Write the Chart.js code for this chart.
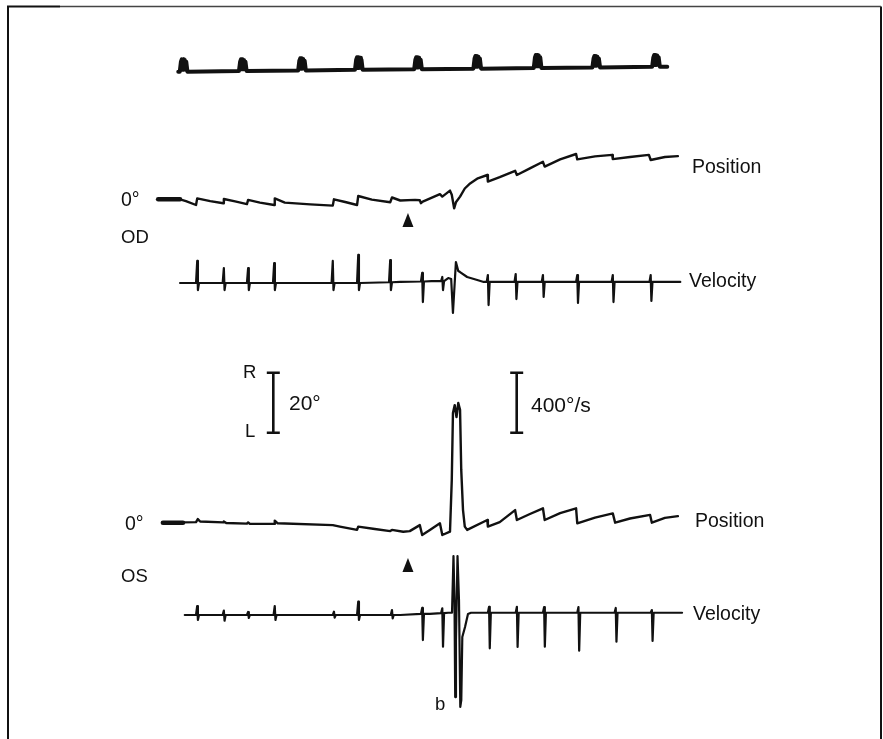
<!DOCTYPE html>
<html>
<head>
<meta charset="utf-8">
<title>OD / OS position and velocity</title>
<script src="https://cdn.jsdelivr.net/npm/chart.js@4.4.1/dist/chart.umd.min.js"></script>
<style>
  html, body { margin: 0; padding: 0; background: #fff; }
  #trace { display: block; }
</style>
</head>
<body>
<canvas id="trace" width="883" height="739"></canvas>
<script>
// time in s from the first timing mark, position in deg (R up), velocity in deg/s

// 1 s timing marks
const markTimes = [0.01, 1.01, 2.01, 2.97, 3.97, 4.97, 5.99, 6.98, 7.99];
const markBase = [0.03, 0.08, 0.13, 0.18, 0.23, 0.28, 0.33, 0.38, 0.43];
const markTop = [1.06, 1.06, 1.14, 1.23, 1.23, 1.33, 1.42, 1.33, 1.42];
const markEnds = [[-0.08, 0.03], [8.18, 0.44]];

const stimulusOnset = 3.80;

// right eye
const odPosition = [
  [-0.05, 0], [0.05, -0.6], [0.22, -1.9], [0.24, 0.3], [0.46, -0.6], [0.68, -1.3], [0.69, 0.1],
  [0.88, -0.7], [1.08, -1.6], [1.10, -0.2], [1.30, -1.1], [1.54, -1.9], [1.55, 0.3], [1.72, -1.1],
  [2.15, -1.7], [2.53, -2.1], [2.55, 0], [2.74, -0.9], [2.94, -1.9], [2.96, 1.1], [3.19, -0.1],
  [3.50, -1.0], [3.53, 0.6], [3.67, -0.4], [3.92, -0.2], [4.00, -0.3], [4.02, -1.3], [4.05, -0.8],
  [4.34, 1.7], [4.38, 0.9], [4.51, 2.9], [4.54, 1.5], [4.58, -3.0], [4.61, -1.0], [4.68, 0.9],
  [4.76, 3.6], [4.85, 5.3], [4.98, 7.0], [5.14, 8.1], [5.15, 5.9], [5.35, 7.4], [5.61, 9.5],
  [5.64, 8.1], [5.86, 10.3], [6.08, 12.5], [6.11, 10.9], [6.37, 13.3], [6.64, 15.1], [6.66, 13.3],
  [6.96, 14.3], [7.25, 14.8], [7.26, 13.4], [7.55, 14.1], [7.87, 14.8], [7.90, 13.1], [8.14, 14.1],
  [8.36, 14.4]
];
const odVelocityBase = [
  [-0.05, 0], [2.0, 0], [3.67, 7], [4.20, 13], [4.48, 33], [4.53, 27], [4.56, -200], [4.61, 140],
  [4.65, 80], [4.68, 73], [4.80, 40], [4.97, 20], [5.08, 7], [8.40, 7]
];
// [time, baseline, peak up, peak down]
const odVelocitySpikes = [
  [0.24, 0, 147, -47], [0.69, 0, 100, -47], [1.10, 0, 100, -47], [1.54, 0, 133, -47],
  [2.53, 0, 147, -47], [2.96, 0, 187, -47], [3.50, 5, 153, -47], [4.04, 10, 67, -127],
  [4.38, 13, 40, -47], [5.15, 7, 53, -147], [5.62, 7, 60, -107], [6.08, 7, 53, -93],
  [6.66, 7, 53, -133], [7.26, 7, 53, -127], [7.90, 7, 53, -120]
];

// left eye
const osPosition = [
  [0, 0.1], [0.22, 0.2], [0.25, 1.2], [0.29, 0.4], [0.68, 0.1], [0.69, 0.4], [0.73, -0.1],
  [1.08, -0.3], [1.10, 0.1], [1.13, -0.4], [1.54, -0.4], [1.55, 0.7], [1.60, -0.2], [2.53, -0.8],
  [2.65, -1.3], [2.94, -2.4], [2.96, -1.3], [3.24, -2.1], [3.50, -2.8], [3.53, -2.4], [3.72, -3.0],
  [3.83, -2.8], [4.00, -0.8], [4.04, -4.1], [4.17, -2.4], [4.34, -0.2], [4.38, -4.1], [4.51, -3.0],
  [4.54, 14.2], [4.56, 36.6], [4.59, 39.2], [4.62, 35.2], [4.65, 39.9], [4.68, 37.6], [4.70, 17.6],
  [4.73, 4.2], [4.76, -1.3], [4.80, -2.4], [5.14, 0.9], [5.15, -1.3], [5.35, 0.2], [5.61, 4.2],
  [5.64, 0.9], [5.86, 2.9], [6.08, 4.8], [6.11, 0.9], [6.37, 3.2], [6.64, 4.8], [6.66, -0.2],
  [6.96, 1.7], [7.26, 3.1], [7.30, 0], [7.55, 1.4], [7.89, 2.6], [7.92, 0], [8.14, 1.6], [8.36, 2.2]
];
const osVelocityBase = [
  [0.03, 0], [3.67, 0], [4.17, 7], [4.48, 15], [4.544, 15], [4.569, 393], [4.586, 100],
  [4.598, -547], [4.611, -167], [4.637, 393], [4.662, 100], [4.684, -613], [4.701, -567],
  [4.718, -147], [4.764, -80], [4.814, 7], [4.865, 15], [8.43, 15]
];
const osVelocitySpikes = [
  [0.24, 0, 60, -33], [0.69, 0, 29, -38], [1.10, 0, 20, -20], [1.55, 0, 60, -33],
  [2.55, 0, 22, -18], [2.96, 0, 89, -33], [3.53, 0, 33, -22], [4.04, 7, 47, -167],
  [4.38, 13, 45, -211], [5.17, 15, 55, -222], [5.64, 15, 55, -213], [6.10, 15, 53, -211],
  [6.68, 15, 53, -238], [7.31, 15, 47, -178], [7.92, 15, 33, -173]
];

// 0° reference dashes at the start of each position trace
const odZeroDash = [[-0.42, 0], [-0.05, 0]];
const osZeroDash = [[-0.34, 0], [0, 0]];

// page layout
const W = 883, H = 739;
const INK = '#111';
const FONT = '"Liberation Sans", Arial, Helvetica, sans-serif';

function xRange(zeroPx, pxPerUnit) {
  return { min: -zeroPx / pxPerUnit, max: (W - zeroPx) / pxPerUnit };
}
function yRange(zeroPx, pxPerUnit) {
  return { min: -(H - zeroPx) / pxPerUnit, max: zeroPx / pxPerUnit };
}

const pts = arr => arr.map(([x, y]) => ({ x, y }));

// each pen mark is a short solid blob on the baseline, so the pen goes up and down a few times
function markTrace() {
  const out = [{ x: markEnds[0][0], y: markEnds[0][1] }];
  markTimes.forEach((t, i) => {
    const b = markBase[i], top = markTop[i];
    out.push(
      { x: t - 0.065, y: b }, { x: t - 0.045, y: top - 0.2 }, { x: t - 0.03, y: top },
      { x: t - 0.02, y: b + 0.15 }, { x: t - 0.005, y: top }, { x: t + 0.005, y: b + 0.15 },
      { x: t + 0.02, y: top - 0.05 }, { x: t + 0.035, y: b + 0.15 }, { x: t + 0.045, y: top - 0.2 },
      { x: t + 0.065, y: b }
    );
  });
  out.push({ x: markEnds[1][0], y: markEnds[1][1] });
  return out;
}

function withSpikes(base, spikes) {
  const out = pts(base);
  spikes.forEach(([t, b, up, down]) => {
    out.push({ x: t - 0.02, y: b }, { x: t, y: up }, { x: t + 0.012, y: down }, { x: t + 0.03, y: b });
  });
  return out.sort((a, b) => a.x - b.x);
}

function trace(data, axis, width) {
  return {
    data, yAxisID: axis, showLine: true, borderColor: INK, borderWidth: width,
    pointRadius: 0, tension: 0, borderJoinStyle: 'round', borderCapStyle: 'round'
  };
}

const hidden = r => Object.assign({ type: 'linear', display: false }, r);

const annotate = {
  id: 'annotate',
  beforeDraw(chart) {
    const ctx = chart.ctx;
    ctx.save();
    ctx.strokeStyle = INK;
    ctx.lineWidth = 2;
    ctx.beginPath();
    ctx.moveTo(8, H); ctx.lineTo(8, 6.5); ctx.lineTo(60, 6.5);
    ctx.moveTo(881, 6.5); ctx.lineTo(881, H);
    ctx.stroke();
    ctx.strokeStyle = '#444';
    ctx.lineWidth = 1.5;
    ctx.beginPath();
    ctx.moveTo(60, 6.5); ctx.lineTo(881, 6.5);
    ctx.stroke();
    ctx.restore();
  },
  afterDraw(chart) {
    const ctx = chart.ctx;
    const s = chart.scales;
    ctx.save();
    ctx.fillStyle = INK;
    ctx.strokeStyle = INK;

    const text = (str, x, y, size) => {
      ctx.font = size + 'px ' + FONT;
      ctx.textBaseline = 'alphabetic';
      ctx.fillText(str, x, y);
    };
    text('Position', 692, 173, 19.5);
    text('Velocity', 689, 287, 19.5);
    text('Position', 695, 527, 19.5);
    text('Velocity', 693, 620, 19.5);
    text('0°', 121, 206, 19.5);
    text('OD', 121, 243, 18.5);
    text('0°', 125, 530, 19.5);
    text('OS', 121, 582, 18.5);
    text('R', 243, 378, 18.5);
    text('L', 245, 437, 18.5);
    text('20°', 289, 410, 21);
    text('400°/s', 531, 412, 21);
    text('b', 435, 710, 18.5);

    // calibration bars: 20° on the position scale, 400°/s on the velocity scale
    const bar = (x, yBottom, len) => {
      ctx.lineWidth = 2.6;
      ctx.beginPath();
      ctx.moveTo(x, yBottom); ctx.lineTo(x, yBottom - len);
      ctx.moveTo(x - 6.5, yBottom); ctx.lineTo(x + 6.5, yBottom);
      ctx.moveTo(x - 6.5, yBottom - len); ctx.lineTo(x + 6.5, yBottom - len);
      ctx.stroke();
    };
    const degLen = Math.abs(s.yOdPos.getPixelForValue(20) - s.yOdPos.getPixelForValue(0));
    const velLen = Math.abs(s.yOdVel.getPixelForValue(400) - s.yOdVel.getPixelForValue(0));
    bar(273.3, 432.7, degLen);
    bar(516.7, 432.7, velLen);

    // stimulus onset arrowheads
    const ax = s.x.getPixelForValue(stimulusOnset);
    const arrow = (tipY) => {
      ctx.beginPath();
      ctx.moveTo(ax, tipY);
      ctx.lineTo(ax + 5.5, tipY + 14);
      ctx.lineTo(ax - 5.5, tipY + 14);
      ctx.closePath();
      ctx.fill();
    };
    arrow(213);
    arrow(558);
    ctx.restore();
  }
};

new Chart(document.getElementById('trace'), {
  type: 'scatter',
  data: {
    datasets: [
      trace(markTrace(), 'yMark', 4),
      trace(pts(odZeroDash), 'yOdPos', 4.5),
      trace(pts(odPosition), 'yOdPos', 2.4),
      trace(withSpikes(odVelocityBase, odVelocitySpikes), 'yOdVel', 2.2),
      trace(pts(osZeroDash), 'yOsPos', 4.5),
      trace(pts(osPosition), 'yOsPos', 2.4),
      trace(withSpikes(osVelocityBase, osVelocitySpikes), 'yOsVel', 2.2)
    ]
  },
  options: {
    responsive: false,
    animation: false,
    events: [],
    layout: { padding: 0 },
    plugins: {
      legend: { display: false },
      tooltip: { enabled: false }
    },
    scales: {
      x: hidden(xRange(183, 59.2)),
      yMark: hidden(yRange(72, 12)),
      yOdPos: hidden(yRange(199.3, 3)),
      yOdVel: hidden(yRange(283, 0.15)),
      yOsPos: hidden(yRange(522.7, 3)),
      yOsVel: hidden(yRange(615, 0.15))
    }
  },
  plugins: [annotate]
});
</script>
</body>
</html>
